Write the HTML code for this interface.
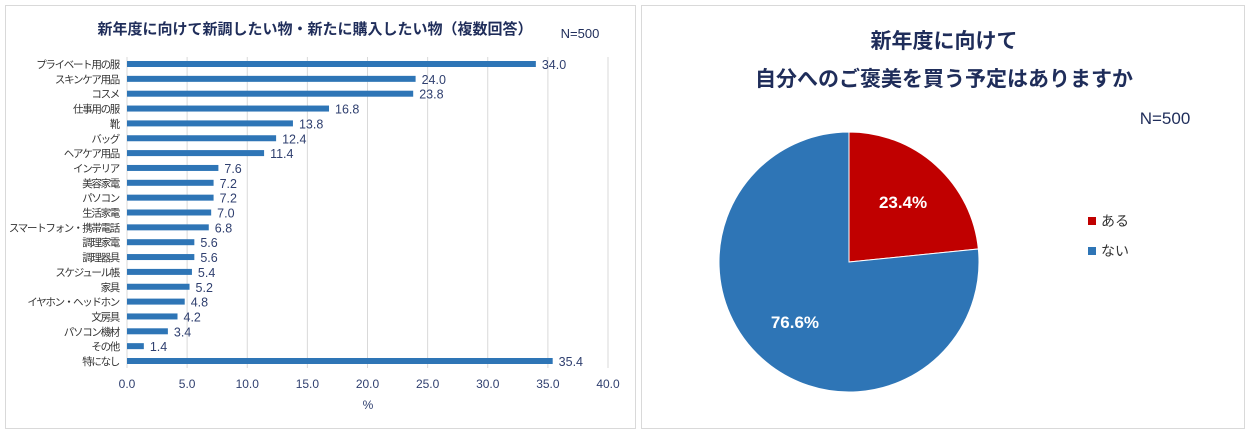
<!DOCTYPE html>
<html><head><meta charset="utf-8"><style>
body{margin:0;width:1249px;height:434px;background:#fff;overflow:hidden;font-family:"Liberation Sans","Noto Sans CJK JP",sans-serif}
svg text{font-family:"Liberation Sans","Noto Sans CJK JP",sans-serif}
</style></head><body>
<svg width="1249" height="434">
<rect x="5.5" y="5.5" width="630" height="423" fill="#fff" stroke="#d9d9d9"/>
<rect x="641.5" y="5.5" width="603" height="423" fill="#fff" stroke="#d9d9d9"/>
<text x="315" y="34" text-anchor="middle" font-size="15" font-weight="bold" fill="#1f2d5a">新年度に向けて新調したい物・新たに購入したい物（複数回答）</text>
<text x="580" y="38" text-anchor="middle" font-size="13" fill="#1f2d5a">N=500</text>
<g id="bars"></g>
<text x="944" y="48" text-anchor="middle" font-size="21" font-weight="bold" fill="#1f2d5a">新年度に向けて</text>
<text x="944" y="86" text-anchor="middle" font-size="21" font-weight="bold" fill="#1f2d5a">自分へのご褒美を買う予定はありますか</text>
<text x="1165" y="124" text-anchor="middle" font-size="17" fill="#1f2d5a">N=500</text>
<g id="pie"></g>
</svg>
<script>
const categories=["プライベート用の服","スキンケア用品","コスメ","仕事用の服","靴","バッグ","ヘアケア用品","インテリア","美容家電","パソコン","生活家電","スマートフォン・携帯電話","調理家電","調理器具","スケジュール帳","家具","イヤホン・ヘッドホン","文房具","パソコン機材","その他","特になし"];
const values=[34.0,24.0,23.8,16.8,13.8,12.4,11.4,7.6,7.2,7.2,7.0,6.8,5.6,5.6,5.4,5.2,4.8,4.2,3.4,1.4,35.4];
const ticks=[0,5,10,15,20,25,30,35,40];
const pieLabels=["ある","ない"];
const pieValues=[23.4,76.6];
const NS="http://www.w3.org/2000/svg";
function mk(t,a,p){const e=document.createElementNS(NS,t);for(const k in a)e.setAttribute(k,a[k]);p.appendChild(e);return e;}
const x0=127,x1=608,xmax=40,yTop=64,yBot=361;
const xs=v=>x0+(x1-x0)*v/xmax;
const ys=i=>yTop+(yBot-yTop)*i/(categories.length-1);
const g=document.getElementById('bars');
ticks.forEach(t=>{
 const l=mk('line',{x1:xs(t),x2:xs(t),y1:57,y2:368,stroke:'#d9d9d9'},g);
 
 
 const tx=mk('text',{x:xs(t),y:388,'text-anchor':'middle','font-size':12,fill:'#2f3f6f'},g);
 tx.textContent=t.toFixed(1);
 
 
});
const xt=mk('text',{x:368,y:409,'text-anchor':'middle','font-size':12,fill:'#2f3f6f'},g);
xt.textContent='%';


categories.forEach((c,i)=>{
 const y=ys(i);
 const r=mk('rect',{x:x0,y:y-3,width:xs(values[i])-x0,height:6,fill:'#2e75b6'},g);
 
 
 const lb=mk('text',{x:119,y:y+4,'text-anchor':'end','font-size':10.5,'letter-spacing':'-1.3',fill:'#333'},g);
 lb.textContent=c;
 
 
 const vl=mk('text',{x:xs(values[i])+6,y:y+5,'font-size':12.5,fill:'#2f3f6f'},g);
 vl.textContent=values[i].toFixed(1);
 
 
});
const pg=document.getElementById('pie');
const cx=849,cy=262,R=130,cols=['#c00000','#2e75b6'];
const tot=pieValues.reduce((a,b)=>a+b,0);let a0=-Math.PI/2;
pieValues.forEach((v,i)=>{
 const a1=a0+2*Math.PI*v/tot;const large=(a1-a0)>Math.PI?1:0;
 const p=mk('path',{d:`M${cx},${cy}L${cx+R*Math.cos(a0)},${cy+R*Math.sin(a0)}A${R},${R} 0 ${large} 1 ${cx+R*Math.cos(a1)},${cy+R*Math.sin(a1)}Z`,fill:cols[i],stroke:'#fff','stroke-width':1},pg);
 
 
 const am=(a0+a1)/2;
 const t=mk('text',{x:cx+R*0.62*Math.cos(am),y:cy+R*0.62*Math.sin(am)+6,'text-anchor':'middle','font-size':17,'font-weight':'bold',fill:'#fff'},pg);
 t.textContent=v.toFixed(1)+'%';
 
 
 const ly=221+i*30;
 const s=mk('rect',{x:1088,y:ly-4,width:8,height:8,fill:cols[i]},pg);
 
 
 const lt=mk('text',{x:1101,y:ly+5,'font-size':14,fill:'#333'},pg);
 lt.textContent=pieLabels[i];
 
 
 a0=a1;
});
</script>
</body></html>
